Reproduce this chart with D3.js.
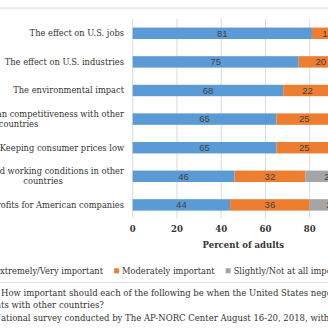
<!DOCTYPE html>
<html>
<head>
<meta charset="utf-8">
<script src="https://cdn.jsdelivr.net/npm/d3@7"></script>
<style>
body { margin: 0; background: #fff; }
svg { display: block; }
</style>
</head>
<body>
<svg width="328" height="328"></svg>
<script>
var categories = [
    "The effect on U.S. jobs",
    "The effect on U.S. industries",
    "The environmental impact",
    "Maintaining American competitiveness with other countries",
    "Keeping consumer prices low",
    "Labor and working conditions in other countries",
    "Profits for American companies"
];
// two-line labels are split here
var labelLines = [
    ["The effect on U.S. jobs"],
    ["The effect on U.S. industries"],
    ["The environmental impact"],
    ["Maintaining American competitiveness with other", "countries"],
    ["Keeping consumer prices low"],
    ["Labor and working conditions in other", "countries"],
    ["Profits for American companies"]
];
var seriesNames = ["Extremely/Very important", "Moderately important", "Slightly/Not at all important"];
var veryImportant = [81, 75, 68, 65, 65, 46, 44];
var moderately = [14, 20, 22, 25, 25, 32, 36];
var slightly = [5, 5, 10, 10, 10, 22, 20];
var xTicks = [0, 20, 40, 60, 80, 100];
var noteLines = [
    ["Question: ", "How important should each of the following be when the United States negotiates trade"],
    ["agreemen", "ts with other countries?"],
    ["Source: N", "ational survey conducted by The AP-NORC Center August 16-20, 2018, with 1,055 adults."]
];

var colors = ["#5b9bd5", "#ed7d31", "#a5a5a5"];
var serif = "'DejaVu Serif', serif";
var sans = "'Liberation Sans', Arial, sans-serif";

var svg = d3.select("svg"),
    width = +svg.attr("width"),
    height = +svg.attr("height");

var rows = categories.map(function (c, i) {
    return {cat: c, lines: labelLines[i], vals: [veryImportant[i], moderately[i], slightly[i]]};
});

var x = d3.scaleLinear().domain([0, 100]).range([132.7, 354]);
var y = d3.scaleBand().domain(categories).range([19, 219.2]).paddingInner(0.6).paddingOuter(0.3);

function textWidth(str, font, size) {
    var t = svg.append("text").style("font-family", font).style("font-size", size + "px").text(str);
    var w = t.node().getComputedTextLength();
    t.remove();
    return w;
}

// top rule
svg.append("rect").attr("x", 0).attr("y", 7.3).attr("width", width).attr("height", 2).attr("fill", "#ebebeb");

// gridlines
svg.append("g").selectAll("line")
    .data(xTicks)
    .enter().append("line")
    .attr("x1", function (d) { return x(d); })
    .attr("x2", function (d) { return x(d); })
    .attr("y1", 19).attr("y2", 218)
    .attr("stroke", "#d9d9d9").attr("stroke-width", 1);

// bars
var rowG = svg.append("g").selectAll("g")
    .data(rows)
    .enter().append("g")
    .attr("transform", function (d) { return "translate(0," + y(d.cat) + ")"; });

var segs = rowG.selectAll("g.seg")
    .data(function (d) {
        var acc = 0;
        return d.vals.map(function (v, k) {
            var s = {start: acc, end: acc + v, v: v, k: k};
            acc += v;
            return s;
        });
    })
    .enter().append("g").attr("class", "seg");

segs.append("rect")
    .attr("x", function (d) { return x(d.start); })
    .attr("width", function (d) { return x(d.end) - x(d.start); })
    .attr("y", 0)
    .attr("height", y.bandwidth())
    .attr("fill", function (d) { return colors[d.k]; });

segs.append("text")
    .attr("x", function (d) { return (x(d.start) + x(d.end)) / 2; })
    .attr("y", y.bandwidth() / 2)
    .attr("dy", "0.35em")
    .attr("text-anchor", "middle")
    .style("font-family", sans)
    .style("font-size", "9.5px")
    .attr("fill", "#404040")
    .text(function (d) { return d.v; });

// category labels
var labelSize = 8.3;
svg.append("g").selectAll("text")
    .data(rows)
    .enter().append("text")
    .style("font-family", serif)
    .style("font-size", labelSize + "px")
    .attr("fill", "#333")
    .each(function (d) {
        var t = d3.select(this);
        var cy = y(d.cat) + y.bandwidth() / 2;
        if (d.lines.length === 1) {
            t.attr("x", 124).attr("y", cy).attr("dy", "0.35em").attr("text-anchor", "end").text(d.lines[0]);
        } else {
            var w = textWidth(d.lines[0], serif, labelSize);
            var mid = 124 - w / 2;
            t.attr("text-anchor", "middle");
            t.append("tspan").attr("x", mid).attr("y", cy - 5).attr("dy", "0.35em").text(d.lines[0]);
            t.append("tspan").attr("x", mid).attr("y", cy + 5).attr("dy", "0.35em").text(d.lines[1]);
        }
    });

// x tick labels
svg.append("g").selectAll("text")
    .data(xTicks)
    .enter().append("text")
    .attr("x", function (d) { return x(d); })
    .attr("y", 229.5)
    .attr("dy", "0.35em")
    .attr("text-anchor", "middle")
    .style("font-family", serif)
    .style("font-size", "8.5px")
    .style("font-weight", "bold")
    .attr("fill", "#333")
    .text(function (d) { return d; });

svg.append("text")
    .attr("x", (x(0) + x(100)) / 2)
    .attr("y", 245)
    .attr("dy", "0.35em")
    .attr("text-anchor", "middle")
    .style("font-family", serif)
    .style("font-size", "8.5px")
    .style("font-weight", "bold")
    .attr("fill", "#333")
    .text("Percent of adults");

// legend
var legSize = 8.3;
var lx = -6 - 8;
seriesNames.forEach(function (name, k) {
    svg.append("rect").attr("x", lx).attr("y", 268.3).attr("width", 5).attr("height", 5).attr("fill", colors[k]);
    svg.append("text").attr("x", lx + 8).attr("y", 270.8).attr("dy", "0.35em")
        .style("font-family", serif).style("font-size", legSize + "px").attr("fill", "#333")
        .text(name);
    lx += 8 + textWidth(name, serif, legSize) + 11;
});

// separator
svg.append("line").attr("x1", 0).attr("x2", width).attr("y1", 282.5).attr("y2", 282.5)
    .attr("stroke", "#e0e0e0").attr("stroke-width", 1);

// notes (left part runs off the edge, as in the source)
var noteSize = 8.5;
var noteY = [292.7, 305.2, 318.3];
noteLines.forEach(function (l, i) {
    var t = svg.append("text").attr("x", 0).attr("y", noteY[i]).attr("dy", "0.35em")
        .style("font-family", serif).style("font-size", noteSize + "px").attr("fill", "#333")
        .text(l[0] + l[1]);
    var px = t.node().getStartPositionOfChar(l[0].length).x;
    t.attr("x", 1 - px);
});
</script>
</body>
</html>
